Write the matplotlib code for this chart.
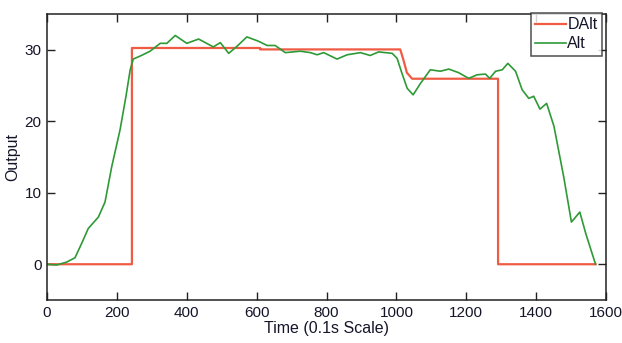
#!/usr/bin/env python3
import numpy as np
import matplotlib.pyplot as plt

# desired altitude (step command)
dalt_t = [0, 243, 243, 610, 610, 1011, 1020, 1030, 1045, 1291, 1291, 1570]
dalt_v = [0, 0, 30.25, 30.25, 30.05, 30.05, 28.6, 26.8, 25.95, 25.95, 0, 0]

# measured altitude
alt_t = [0, 28, 56, 80, 99, 118, 147, 166, 185, 209, 226, 238, 247, 270, 295,
         324, 343, 367, 400, 434, 476, 496, 520, 544, 572, 605, 630, 653, 682,
         725, 754, 773, 792, 830, 859, 897, 925, 949, 988, 1002, 1016, 1031,
         1048, 1069, 1097, 1126, 1150, 1178, 1207, 1231, 1255, 1267, 1284,
         1303, 1319, 1341, 1360, 1379, 1393, 1411, 1430, 1451, 1479, 1501,
         1525, 1542, 1570]
alt_v = [0, -0.1, 0.3, 0.9, 2.9, 5.0, 6.6, 8.7, 13.6, 18.8, 23.5, 27.2, 28.7,
         29.2, 29.8, 30.9, 30.9, 32.0, 30.9, 31.5, 30.4, 31.0, 29.5, 30.5,
         31.8, 31.2, 30.6, 30.6, 29.6, 29.8, 29.6, 29.3, 29.6, 28.7, 29.3,
         29.6, 29.2, 29.7, 29.5, 28.8, 26.7, 24.6, 23.7, 25.3, 27.2, 27.0,
         27.3, 26.8, 26.0, 26.5, 26.6, 26.0, 27.0, 27.2, 28.1, 27.0, 24.4,
         23.2, 23.5, 21.7, 22.5, 19.3, 12.2, 5.9, 7.3, 4.3, 0]

plt.rcParams['font.family'] = ['Liberation Sans', 'DejaVu Sans']
txt = '#15152a'
fs = 11.5

fig = plt.figure(figsize=(6.22, 3.43), dpi=100)
ax = fig.add_axes([0.0756, 0.1254, 0.8987, 0.8337])

ax.plot(dalt_t, dalt_v, color='#EF5B43', lw=1.6, label='DAlt')
ax.plot(alt_t, alt_v, color='#2E9A36', lw=1.2, label='Alt')

ax.set_xlim(0, 1600)
ax.set_ylim(-5, 35)
ax.set_xticks(np.arange(0, 1601, 200))
ax.set_yticks([0, 10, 20, 30])
ax.tick_params(direction='in', length=6, width=1, top=True, right=True,
               labelsize=11, colors='#222222', labelcolor=txt, pad=4)
for s in ax.spines.values():
    s.set_color('#222222')
    s.set_linewidth(1.1)

ax.set_xlabel('Time (0.1s Scale)', fontsize=fs, color=txt, labelpad=1)
ax.set_ylabel('Output', fontsize=fs, color=txt, labelpad=3)

leg = ax.legend(loc='upper right', bbox_to_anchor=(0.9935, 1.005), fontsize=fs,
                frameon=True, fancybox=False, handlelength=1.9, handletextpad=0.1,
                borderpad=0.3, labelspacing=0.25, borderaxespad=0)
leg.get_frame().set_edgecolor('#222222')
leg.get_frame().set_linewidth(1.1)
for t in leg.get_texts():
    t.set_color(txt)

fig.savefig('out.png', dpi=100)
